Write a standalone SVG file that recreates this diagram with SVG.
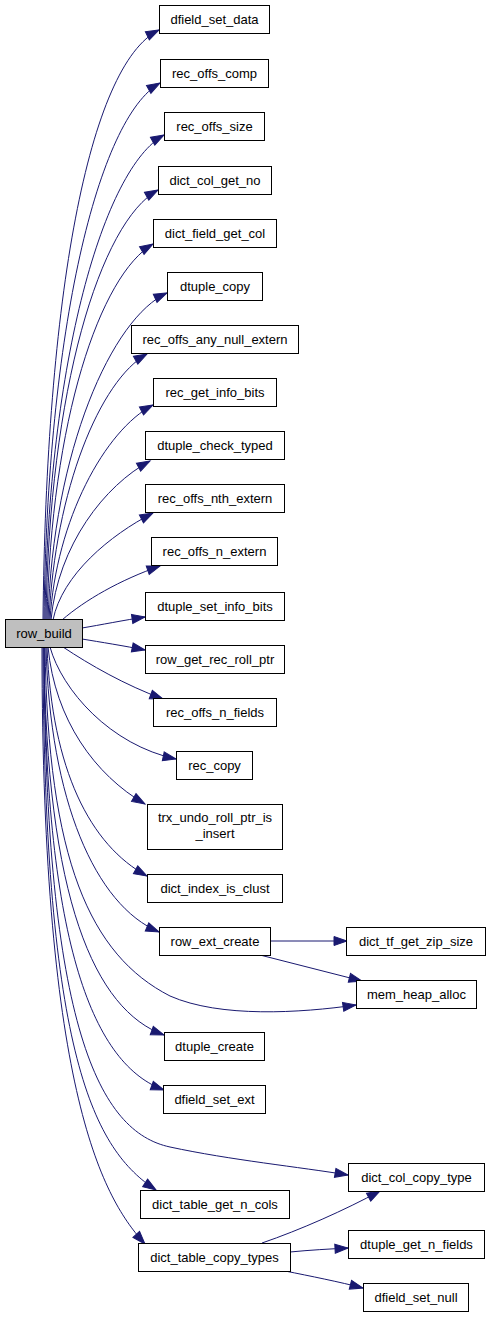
<svg xmlns="http://www.w3.org/2000/svg" width="491" height="1317" viewBox="0 0 491 1317">
<style>
.n rect{fill:#ffffff;stroke:#000000;stroke-width:1}
#row_build rect{fill:#bfbfbf}
.n text{font-family:"Liberation Sans",Arial,sans-serif;font-size:13px;text-anchor:middle;fill:#000000}
.e path{fill:none;stroke:#191970;stroke-width:1;marker-end:url(#ah)}
</style>
<defs>
<marker id="ah" markerUnits="userSpaceOnUse" markerWidth="14" markerHeight="10" refX="13" refY="4.5" orient="auto" overflow="visible">
<path d="M0,0 L13,4.5 L0,9 z" fill="#191970" stroke="#191970" stroke-width="1"/>
</marker>
</defs>
<rect width="491" height="1317" fill="#ffffff"/>
<g id="edges" class="e">
<path d="M43,620 C46,300 88,65 159,30"/>
<path d="M44,620 C47,330 98,118 160,83"/>
<path d="M45,620 C48,360 104,168 164,135"/>
<path d="M46,620 C49,390 100,222 158,190"/>
<path d="M47,620 C51,420 100,275 153,244"/>
<path d="M48,620 C53,450 112,318 167,293"/>
<path d="M49,620 C55,490 100,380 147,354"/>
<path d="M50,620 C56,520 105,430 153,405"/>
<path d="M51,620 C58,545 105,485 150,461"/>
<path d="M53,620 C62,575 110,535 153,513"/>
<path d="M62,620 C85,600 120,580 160,566"/>
<path d="M82,628 C100,625 125,620 145,617"/>
<path d="M82,639 C100,642 125,646 145,650"/>
<path d="M63,647 C90,665 125,685 163,699"/>
<path d="M50,647 C62,690 110,745 176,759"/>
<path d="M48,647 C55,720 95,775 145,804"/>
<path d="M47,647 C52,770 90,845 147,876"/>
<path d="M46,647 C50,800 95,905 159,932"/>
<path d="M45,647 C48,860 90,955 170,996 C220,1018 300,1013 356,1005"/>
<path d="M44,647 C46,900 95,1010 164,1035"/>
<path d="M44,647 C45,950 95,1065 164,1090"/>
<path d="M44,647 C45,1030 100,1132 170,1147 C230,1160 300,1167 348,1175"/>
<path d="M43,647 C44,1060 95,1150 156,1190"/>
<path d="M42,647 C42,1100 105,1200 145,1244"/>
<path d="M270,941 L347,941"/>
<path d="M260,955 L362,981"/>
<path d="M262,1243 C300,1230 345,1210 380,1191"/>
<path d="M290,1252 C310,1250 330,1249 348,1248"/>
<path d="M285,1271 C310,1276 340,1282 363,1288"/>
</g>
<g id="dfield_set_data" class="n"><rect x="159.5" y="5.5" width="110" height="28"/><text x="214.5" y="24">dfield_set_data</text></g>
<g id="rec_offs_comp" class="n"><rect x="160.5" y="59.5" width="108" height="28"/><text x="214.5" y="78">rec_offs_comp</text></g>
<g id="rec_offs_size" class="n"><rect x="164.5" y="112.5" width="100" height="28"/><text x="214.5" y="131">rec_offs_size</text></g>
<g id="dict_col_get_no" class="n"><rect x="158.5" y="166.5" width="113" height="28"/><text x="215" y="185">dict_col_get_no</text></g>
<g id="dict_field_get_col" class="n"><rect x="153.5" y="219.5" width="123" height="28"/><text x="215" y="238">dict_field_get_col</text></g>
<g id="dtuple_copy" class="n"><rect x="167.5" y="272.5" width="95" height="28"/><text x="215" y="291">dtuple_copy</text></g>
<g id="rec_offs_any_null_extern" class="n"><rect x="131.5" y="325.5" width="167" height="28"/><text x="215" y="344">rec_offs_any_null_extern</text></g>
<g id="rec_get_info_bits" class="n"><rect x="153.5" y="378.5" width="123" height="28"/><text x="215" y="397">rec_get_info_bits</text></g>
<g id="dtuple_check_typed" class="n"><rect x="145.5" y="431.5" width="139" height="28"/><text x="215" y="450">dtuple_check_typed</text></g>
<g id="rec_offs_nth_extern" class="n"><rect x="145.5" y="484.5" width="139" height="28"/><text x="215" y="503">rec_offs_nth_extern</text></g>
<g id="rec_offs_n_extern" class="n"><rect x="151.5" y="537.5" width="126" height="28"/><text x="214.5" y="556">rec_offs_n_extern</text></g>
<g id="dtuple_set_info_bits" class="n"><rect x="145.5" y="592.5" width="139" height="28"/><text x="215" y="611">dtuple_set_info_bits</text></g>
<g id="row_build" class="n"><rect x="5.5" y="619.5" width="77" height="28"/><text x="44" y="638">row_build</text></g>
<g id="row_get_rec_roll_ptr" class="n"><rect x="145.5" y="645.5" width="139" height="28"/><text x="215" y="664">row_get_rec_roll_ptr</text></g>
<g id="rec_offs_n_fields" class="n"><rect x="153.5" y="698.5" width="123" height="28"/><text x="215" y="717">rec_offs_n_fields</text></g>
<g id="rec_copy" class="n"><rect x="176.5" y="751.5" width="76" height="28"/><text x="214.5" y="770">rec_copy</text></g>
<g id="trx_undo_roll_ptr_is_insert" class="n"><rect x="147.5" y="804.5" width="135" height="45"/><text x="215" y="822">trx_undo_roll_ptr_is</text><text x="215" y="838">_insert</text></g>
<g id="dict_index_is_clust" class="n"><rect x="147.5" y="874.5" width="135" height="28"/><text x="215" y="893">dict_index_is_clust</text></g>
<g id="row_ext_create" class="n"><rect x="159.5" y="927.5" width="111" height="28"/><text x="215" y="946">row_ext_create</text></g>
<g id="dict_tf_get_zip_size" class="n"><rect x="346.5" y="927.5" width="139" height="28"/><text x="416" y="946">dict_tf_get_zip_size</text></g>
<g id="mem_heap_alloc" class="n"><rect x="356.5" y="980.5" width="120" height="28"/><text x="416.5" y="999">mem_heap_alloc</text></g>
<g id="dtuple_create" class="n"><rect x="164.5" y="1032.5" width="100" height="28"/><text x="214.5" y="1051">dtuple_create</text></g>
<g id="dfield_set_ext" class="n"><rect x="163.5" y="1085.5" width="102" height="28"/><text x="214.5" y="1104">dfield_set_ext</text></g>
<g id="dict_col_copy_type" class="n"><rect x="348.5" y="1163.5" width="136" height="28"/><text x="416.5" y="1182">dict_col_copy_type</text></g>
<g id="dict_table_get_n_cols" class="n"><rect x="140.5" y="1190.5" width="149" height="28"/><text x="215" y="1209">dict_table_get_n_cols</text></g>
<g id="dict_table_copy_types" class="n"><rect x="138.5" y="1243.5" width="152" height="28"/><text x="214.5" y="1262">dict_table_copy_types</text></g>
<g id="dtuple_get_n_fields" class="n"><rect x="348.5" y="1230.5" width="136" height="28"/><text x="416.5" y="1249">dtuple_get_n_fields</text></g>
<g id="dfield_set_null" class="n"><rect x="363.5" y="1283.5" width="105" height="28"/><text x="416" y="1302">dfield_set_null</text></g>
</svg>
